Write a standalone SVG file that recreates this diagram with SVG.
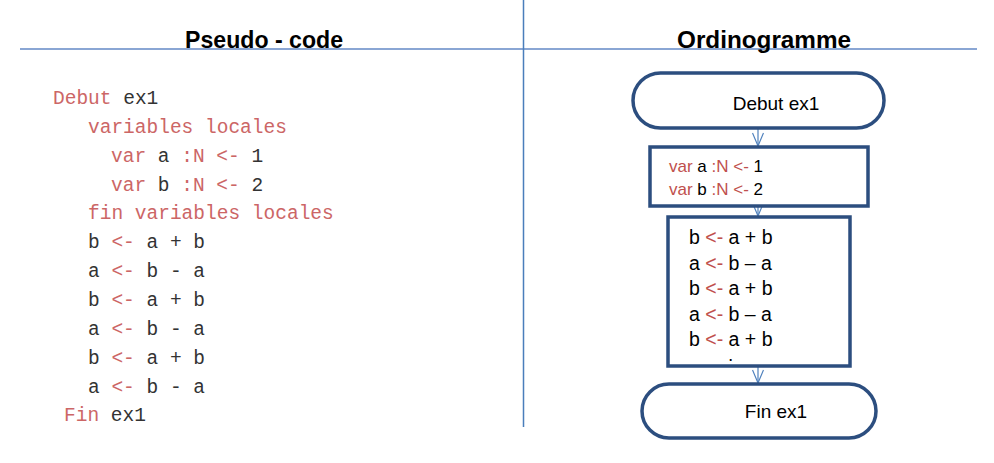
<svg xmlns="http://www.w3.org/2000/svg" width="994" height="463" viewBox="0 0 994 463">
<style>
.title{font-family:"Liberation Sans",Arial,sans-serif;font-weight:bold;font-size:24px;fill:#000;text-anchor:middle}
.code{font-family:"Liberation Mono","Courier New",monospace;font-size:19.5px;fill:#333;white-space:pre}
.r{fill:#CC6666}
.fr{fill:#C0504D}
.node{fill:#fff;stroke:#2C4E7F;stroke-width:3.5}
.lbl{font-family:"Liberation Sans",Arial,sans-serif;fill:#000;white-space:pre}
.conn{stroke:#4F81BD;stroke-width:1.2;fill:none}
</style>
<defs>
<marker id="arr" markerWidth="16" markerHeight="12" refX="14" refY="6" orient="auto" markerUnits="userSpaceOnUse">
<path d="M1,0.5 L14,6 L1,11.5" fill="none" stroke="#4F81BD" stroke-width="1.2"/>
</marker>
<clipPath id="box2clip"><rect x="670" y="219" width="178" height="142"/></clipPath>
</defs>
<rect width="994" height="463" fill="#fff"/>
<g id="frame">
<line x1="20" y1="49" x2="977" y2="49" stroke="#8AA6D4" stroke-width="2"/>
<line x1="523.5" y1="0" x2="523.5" y2="427" stroke="#4A7EBB" stroke-width="1.5"/>
<text class="title" x="264" y="48" textLength="158" lengthAdjust="spacingAndGlyphs">Pseudo - code</text>
<text class="title" x="764" y="48" textLength="174" lengthAdjust="spacingAndGlyphs">Ordinogramme</text>
</g>
<g id="pseudocode">
<text class="code" x="53" y="104"><tspan class="r">Debut</tspan> ex1</text>
<text class="code r" x="88" y="133">variables locales</text>
<text class="code" x="111" y="162"><tspan class="r">var</tspan> a <tspan class="r">:N &lt;-</tspan> 1</text>
<text class="code" x="111" y="191"><tspan class="r">var</tspan> b <tspan class="r">:N &lt;-</tspan> 2</text>
<text class="code r" x="88" y="219">fin variables locales</text>
<text class="code" x="88" y="248">b <tspan class="r">&lt;-</tspan> a + b</text>
<text class="code" x="88" y="277">a <tspan class="r">&lt;-</tspan> b - a</text>
<text class="code" x="88" y="306">b <tspan class="r">&lt;-</tspan> a + b</text>
<text class="code" x="88" y="335">a <tspan class="r">&lt;-</tspan> b - a</text>
<text class="code" x="88" y="364">b <tspan class="r">&lt;-</tspan> a + b</text>
<text class="code" x="88" y="393">a <tspan class="r">&lt;-</tspan> b - a</text>
<text class="code" x="64" y="421"><tspan class="r">Fin</tspan> ex1</text>
</g>
<g id="connectors">
<line class="conn" x1="758" y1="128" x2="758" y2="146" marker-end="url(#arr)"/>
<line class="conn" x1="758" y1="206" x2="758" y2="216" marker-end="url(#arr)"/>
<line class="conn" x1="758" y1="366" x2="758" y2="383" marker-end="url(#arr)"/>
</g>
<g id="start">
<rect class="node" x="633" y="73" width="251" height="55" rx="27.5" ry="27.5"/>
<text class="lbl" x="776" y="110" font-size="19" text-anchor="middle">Debut ex1</text>
</g>
<g id="init">
<rect class="node" x="650" y="147" width="218" height="59"/>
<text class="lbl" x="669" y="172" font-size="17"><tspan class="fr">var</tspan> a <tspan class="fr">:N &lt;-</tspan> 1</text>
<text class="lbl" x="669" y="195" font-size="17"><tspan class="fr">var</tspan> b <tspan class="fr">:N &lt;-</tspan> 2</text>
</g>
<g id="swap">
<rect class="node" x="668" y="217" width="182" height="149"/>
<g font-size="19.5">
<text class="lbl" x="689" y="244">b <tspan class="fr">&lt;-</tspan> a + b</text>
<text class="lbl" x="689" y="270">a <tspan class="fr">&lt;-</tspan> b – a</text>
<text class="lbl" x="689" y="295">b <tspan class="fr">&lt;-</tspan> a + b</text>
<text class="lbl" x="689" y="321">a <tspan class="fr">&lt;-</tspan> b – a</text>
<text class="lbl" x="689" y="346">b <tspan class="fr">&lt;-</tspan> a + b</text>
<text class="lbl" x="689" y="374" clip-path="url(#box2clip)">a <tspan class="fr">&lt;-</tspan> b – a</text>
</g>
</g>
<g id="end">
<rect class="node" x="642" y="384" width="234" height="54" rx="27" ry="27"/>
<text class="lbl" x="776" y="418" font-size="19" text-anchor="middle">Fin ex1</text>
</g>
</svg>
